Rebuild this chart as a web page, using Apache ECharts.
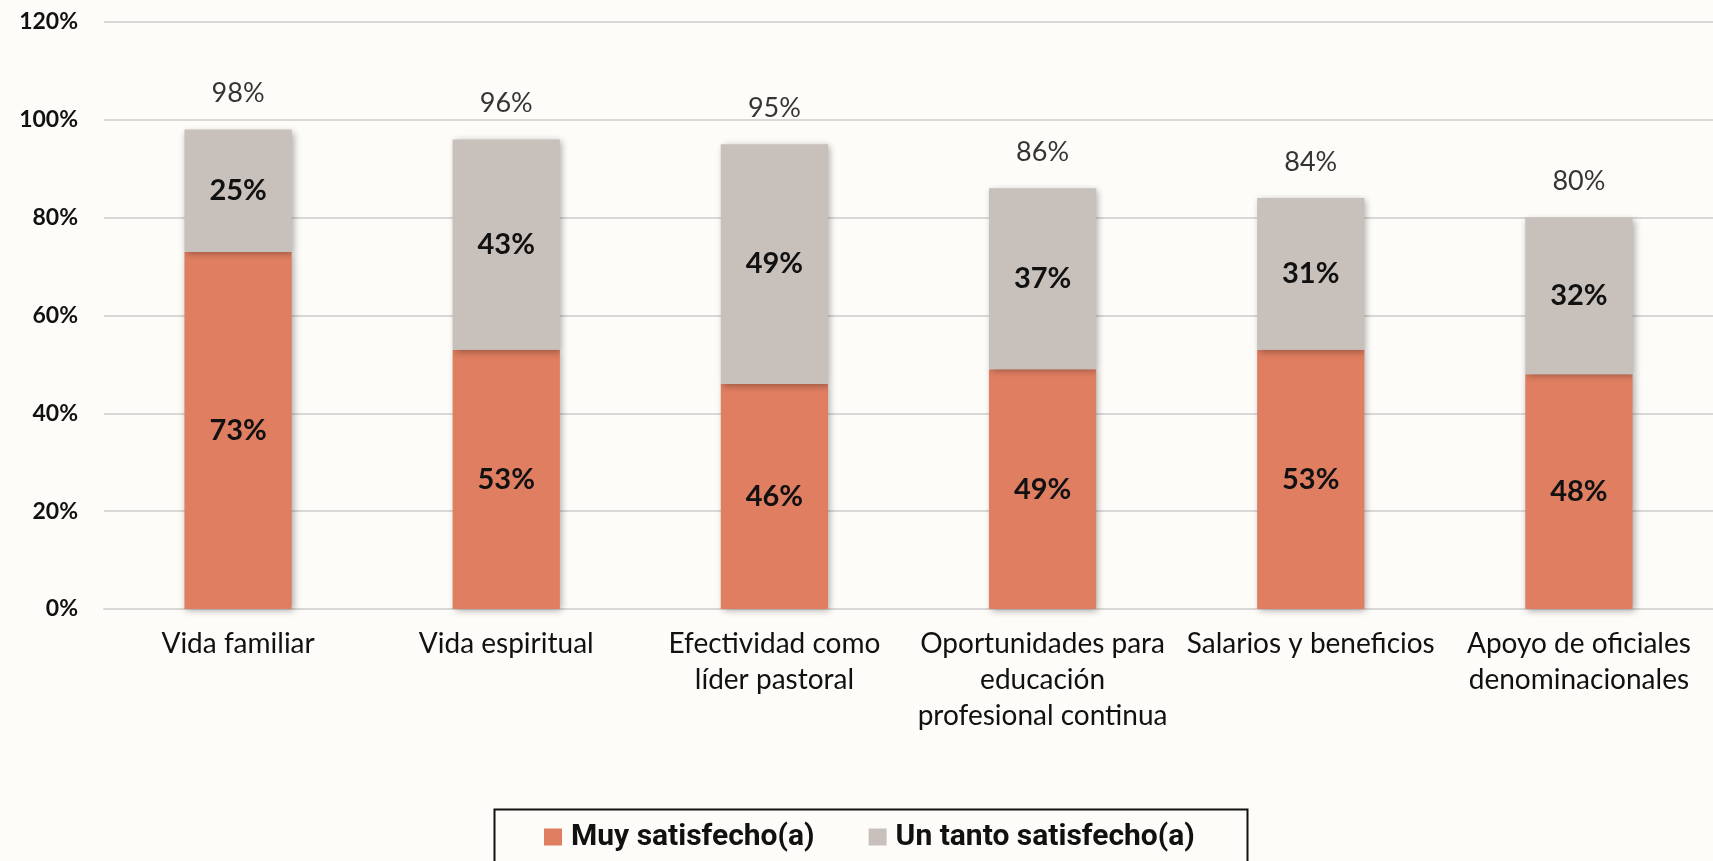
<!DOCTYPE html>
<html>
<head>
<meta charset="utf-8">
<script src="https://cdn.jsdelivr.net/npm/echarts@6/dist/echarts.min.js"></script>
<style>
  html, body { margin: 0; padding: 0; background: #fdfcf9; }
  #chart { width: 1713px; height: 861px; }
</style>
</head>
<body>
<div id="chart"></div>
<script>
const categories = [
  'Vida familiar',
  'Vida espiritual',
  'Efectividad como\nlíder pastoral',
  'Oportunidades para\neducación\nprofesional continua',
  'Salarios y beneficios',
  'Apoyo de oficiales\ndenominacionales'
]
const muySatisfecho = [73, 53, 46, 49, 53, 48]
const unTanto = [25, 43, 49, 37, 31, 32]
const totals = [98, 96, 95, 86, 84, 80]

const FONT = 'Lato, "Open Sans", sans-serif'
const barShadow = {
  shadowBlur: 7,
  shadowColor: 'rgba(0,0,0,0.32)',
  shadowOffsetX: 2,
  shadowOffsetY: 2
}
const innerLabel = {
  show: true,
  position: 'inside',
  formatter: '{c}%',
  color: '#111',
  fontSize: 29,
  fontWeight: 'bold',
  fontFamily: FONT
}

const chart = echarts.init(document.getElementById('chart'))
chart.setOption({
  backgroundColor: '#fdfcf9',
  animation: false,
  textStyle: { fontFamily: FONT },
  grid: {
    left: 104, right: 0, top: 22, bottom: 252,
    containLabel: false,
    outerBoundsMode: 'none'
  },
  legend: {
    left: 539,
    top: 817,
    itemGap: 54,
    itemWidth: 18,
    itemHeight: 17,
    icon: 'rect',
    data: ['Muy satisfecho(a)', 'Un tanto satisfecho(a)'],
    textStyle: {
      fontFamily: 'Roboto, sans-serif',
      fontSize: 30,
      fontWeight: 'bold',
      color: '#111',
      padding: [0, 0, 0, 4]
    }
  },
  graphic: [{
    type: 'rect',
    left: 492,
    top: 807,
    shape: { width: 753, height: 80 },
    style: { fill: 'none', stroke: '#111', lineWidth: 2 },
    silent: true
  }],
  xAxis: {
    type: 'category',
    data: categories,
    axisLine: { show: true, lineStyle: { color: '#d9d8d6', width: 2 } },
    axisTick: { show: false },
    axisLabel: {
      interval: 0,
      margin: 17,
      color: '#111',
      fontSize: 28,
      lineHeight: 36,
      fontFamily: FONT
    }
  },
  yAxis: {
    type: 'value',
    min: 0,
    max: 120,
    interval: 20,
    axisLine: { show: false },
    axisTick: { show: false },
    axisLabel: {
      formatter: '{value}%',
      color: '#111',
      fontSize: 23,
      fontWeight: 'bold',
      margin: 26,
      fontFamily: FONT
    },
    splitLine: { lineStyle: { color: '#d9d8d6', width: 2 } }
  },
  series: [
    {
      name: 'Muy satisfecho(a)',
      type: 'bar',
      stack: 'total',
      barWidth: '40%',
      data: muySatisfecho,
      itemStyle: Object.assign({ color: '#e07e61' }, barShadow),
      label: innerLabel
    },
    {
      name: 'Un tanto satisfecho(a)',
      type: 'bar',
      stack: 'total',
      barWidth: '40%',
      data: unTanto,
      itemStyle: Object.assign({ color: '#c8c0bb' }, barShadow),
      label: innerLabel
    },
    {
      name: 'Total',
      type: 'scatter',
      data: totals,
      symbolSize: 1,
      itemStyle: { color: 'transparent' },
      silent: true,
      label: {
        show: true,
        position: 'top',
        distance: 22,
        formatter: '{c}%',
        color: '#000',
        fontSize: 27,
        fontFamily: FONT
      }
    }
  ]
})
</script>
</body>
</html>
